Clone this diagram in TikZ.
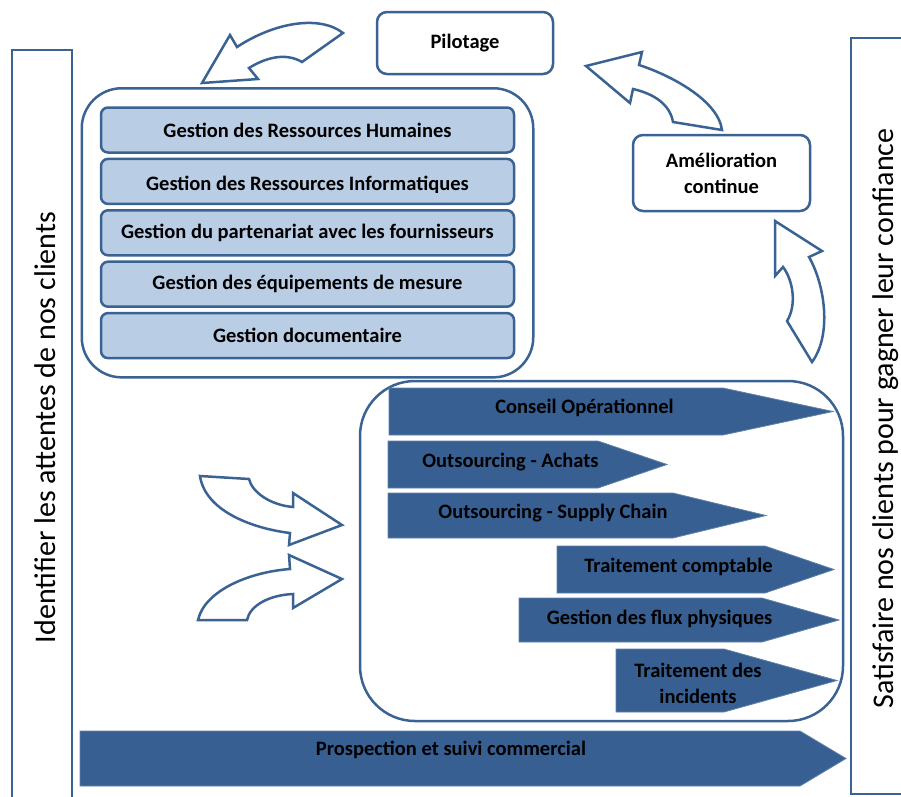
\documentclass[tikz,border=0pt]{standalone}
\usepackage{fontspec}
\setmainfont{Carlito}
\usetikzlibrary{positioning,fit}
\definecolor{bordure}{HTML}{3A6394}
\definecolor{fonce}{HTML}{375F92}
\definecolor{clair}{HTML}{B9CDE5}

\begin{document}
\begin{tikzpicture}[x=1pt,y=-1pt,line width=2.5pt,every node/.style={font=\bfseries\fontsize{20.5}{26}\selectfont}]
\tikzstyle{cadre}=[draw=bordure,fill=white,rounded corners=10pt,inner sep=0pt]
\tikzstyle{gestion}=[draw=bordure,fill=clair,rounded corners=7pt,minimum width=413pt,minimum height=45pt,inner sep=0pt]
\tikzstyle{fleche}=[fill=fonce,draw=bordure!80!white,line width=0.8pt]
\tikzstyle{bloc}=[draw=bordure,fill=white,line join=miter]
\tikzstyle{axe}=[rotate=90,anchor=base,inner sep=0pt,font=\fontsize{30}{36}\selectfont]
\useasboundingbox (0,0) rectangle (901,796);
%
% colonnes clients
\draw[bordure,line width=2pt] (12,50) rectangle (72,800);
\draw[bordure,line width=2pt] (851,38) rectangle (910,794);
\node[axe] (attentes) at (55,427.5) {Identifier les attentes de nos clients};
\node[axe] (confiance) at (893.5,418.5) {Satisfaire nos clients pour gagner leur confiance};
%
% pilotage
\node[cadre,minimum width=176pt,minimum height=62pt] (pil) at (465,43) {Pilotage};
\node[cadre,minimum width=177pt,minimum height=76pt,align=center] (amel) at (721.5,173) {Amélioration\\continue};
%
% processus support
\node[gestion] (grh) at (307.5,130) {Gestion des Ressources Humaines};
\node[gestion] (gri) [below=3.9pt of grh] {};
\node[gestion] (gpf) [below=3.9pt of gri] {Gestion du partenariat avec les fournisseurs};
\node[gestion] (gem) [below=3.9pt of gpf] {Gestion des équipements de mesure};
\node[gestion] (gdoc) [below=3.9pt of gem] {Gestion documentaire};
\begin{scope}
  \clip (101,160) rectangle (514,192);
  \node[anchor=base] (gri-txt) at (307.5,190) {Gestion des Ressources Informatiques};
\end{scope}
\node[draw=bordure,rounded corners=40pt,fit={(grh) (gdoc)},inner sep=18pt] (support) {};
%
% processus metier
\node[draw=bordure,rounded corners=55pt,minimum width=483pt,minimum height=340pt] (metier) at (601.5,551) {};
\draw[fleche] (389,388) -- (723,388) -- (833,411.5) -- (723,435) -- (389,435) -- cycle;
\draw[fleche] (388,441) -- (598,441) -- (667,464.5) -- (598,488) -- (388,488) -- cycle;
\draw[fleche] (388,493) -- (673,493) -- (766,515.5) -- (673,538) -- (388,538) -- cycle;
\draw[fleche] (557,546) -- (765,546) -- (834,569.5) -- (765,593) -- (557,593) -- cycle;
\draw[fleche] (519,598) -- (762,598) -- (839,620) -- (762,642) -- (519,642) -- cycle;
\draw[fleche] (616,649) -- (724,649) -- (837,680.5) -- (724,712) -- (616,712) -- cycle;
\draw[fleche] (80,731) -- (800,731) -- (846,758.5) -- (800,786) -- (80,786) -- cycle;
\node (conseil) at (584.5,408) {Conseil Opérationnel};
\node (achats) at (510.5,462) {Outsourcing - Achats};
\node (supply) at (553,513) {Outsourcing - Supply Chain};
\node (compta) at (678.5,567) {Traitement comptable};
\node (flux) at (659.5,619) {Gestion des flux physiques};
\node[align=center] (incid) at (698,683) {Traitement des\\incidents};
\node (prosp) at (451,750) {Prospection et suivi commercial};
%
% fleches courbes
\draw[bloc] (343,33) .. controls (320,15) and (275,22) .. (237,47) -- (230,35) -- (202,83) -- (258,79) -- (249,68)
  .. controls (265,58) and (285,52) .. (302,62) -- cycle;
\draw[bloc] (586,66) -- (642,52) -- (639,65) .. controls (670,75) and (718,100) .. (722,130) -- (673,122)
  .. controls (670,105) and (655,94) .. (633,89) -- (630,103) -- cycle;
\draw[bloc] (775,221) -- (822,251) -- (809,257) .. controls (825,285) and (832,335) .. (812,362) -- (787,321)
  .. controls (797,305) and (793,280) .. (783,267) -- (775,276) -- cycle;
\draw[bloc] (200,476) -- (249,479) .. controls (252,492) and (270,505) .. (293,507) -- (293,493) -- (342,525)
  -- (289,545) -- (290,533) .. controls (250,528) and (205,510) .. (200,476) -- cycle;
\draw[bloc] (198,620) -- (247,620) .. controls (250,605) and (270,595) .. (293,594) -- (293,608) -- (342,579)
  -- (289,555) -- (290,569) .. controls (250,572) and (205,590) .. (198,620) -- cycle;
\end{tikzpicture}
\end{document}
